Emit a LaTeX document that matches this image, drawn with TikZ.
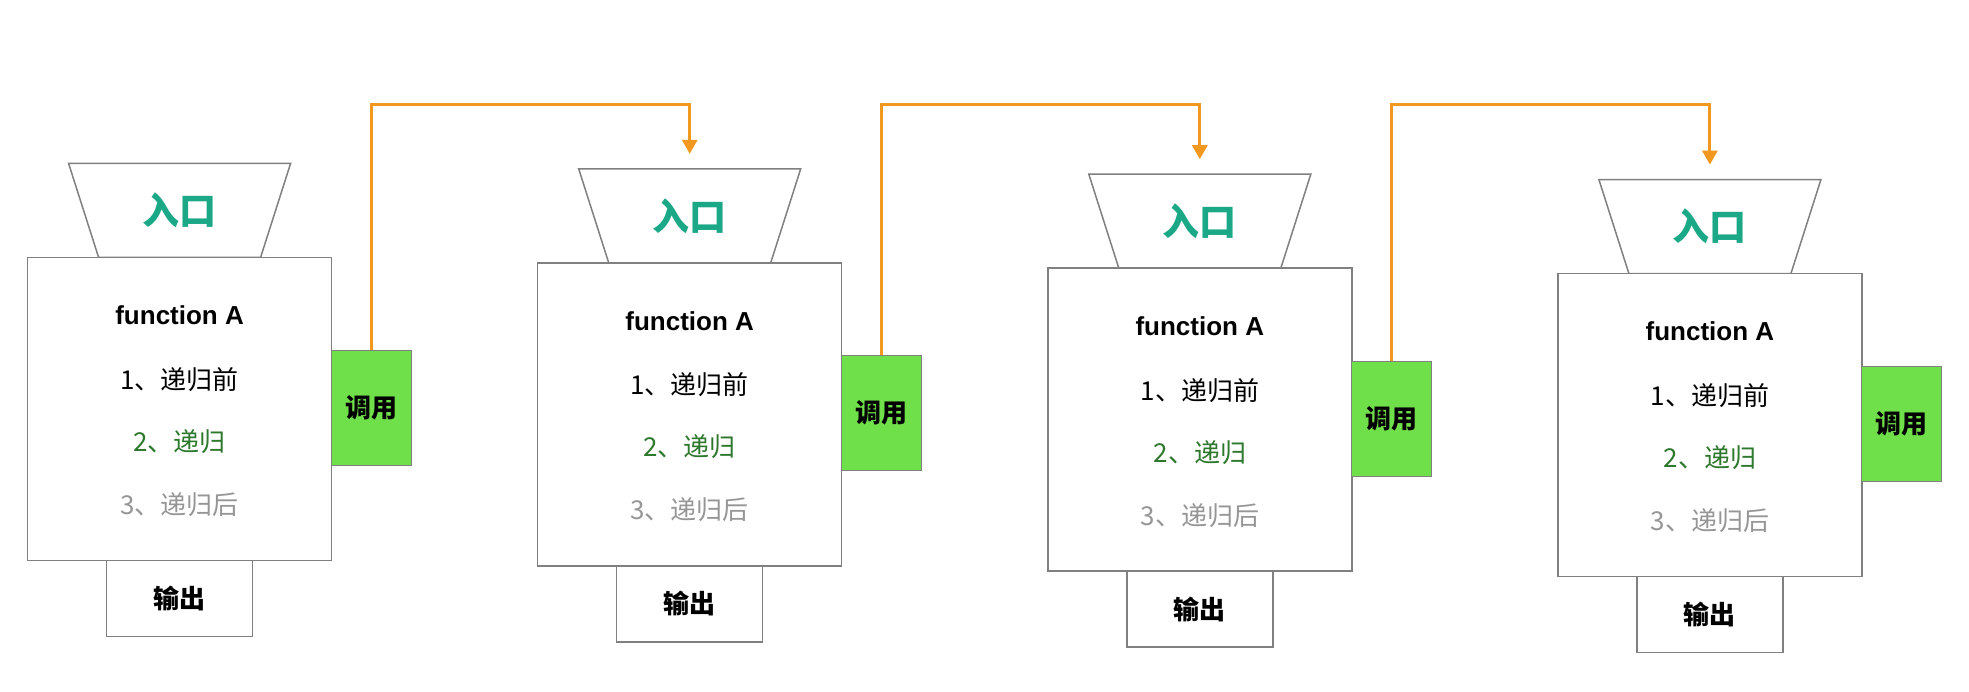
\documentclass[tikz,border=0pt]{standalone}
\usepackage{fontspec}
\setmainfont{Liberation Sans}
\newfontfamily\cjk{Noto Sans CJK SC}
\usetikzlibrary{arrows.meta}
\definecolor{boxline}{RGB}{128,128,128}
\definecolor{entry}{RGB}{27,168,135}
\definecolor{callgreen}{RGB}{112,224,74}
\definecolor{orangeline}{RGB}{243,152,30}
\definecolor{steptwo}{RGB}{45,120,45}
\definecolor{stepthree}{RGB}{150,150,150}
\tikzset{
  outline/.style={draw=boxline, line width=1.5pt},
  mainbox/.style={outline, fill=white, minimum width=304pt, minimum height=303pt, inner sep=0pt},
  outbox/.style={outline, fill=white, minimum width=146pt, minimum height=76pt, inner sep=0pt,
     font=\cjk\bfseries\fontsize{26}{30}\selectfont},
  callbox/.style={draw=boxline, line width=1pt, fill=callgreen, minimum width=80pt, minimum height=115pt, inner sep=0pt,
     font=\cjk\bfseries\fontsize{26}{30}\selectfont},
  entrytext/.style={text=entry, font=\cjk\bfseries\fontsize{37}{42}\selectfont, inner sep=0pt},
  titletext/.style={font=\bfseries\fontsize{26}{30}\selectfont, inner sep=0pt},
  itemtext/.style={font=\cjk\fontsize{26}{30}\selectfont, inner sep=0pt},
  conn/.style={draw=orangeline, line width=3pt,
     -{Triangle[width=15pt,length=14pt]}},
}
\begin{document}
\begin{tikzpicture}[x=1pt,y=-1pt]
\useasboundingbox (0,0) rectangle (1969,691);
\fill[white] (0,0) rectangle (1969,691);
\coordinate (hline) at (0,104);
\foreach \i in {0,1,2,3}{
  \pgfmathsetmacro\bx{27.6+510.1*\i}
  \pgfmathsetmacro\by{257.4+5.4*\i}
  \pgfmathsetmacro\cx{\bx+152}
  % entry trapezoid
  \draw[outline, fill=white] (\cx-111,\by-94) -- (\cx+111,\by-94) -- (\cx+81,\by) -- (\cx-81,\by) -- cycle;
  \coordinate (top\i) at (\cx,\by-94);
  \node[entrytext] (ent\i) at (\cx,\by-47) {入口};
  % main box
  \node[mainbox] (box\i) at (\cx,\by+151.5) {};
  \node[titletext] (fn\i) at (\cx,\by+58) {function A};
  \node[itemtext] (sa\i) at (\cx,\by+122) {1、递归前};
  \node[itemtext, text=steptwo] (sb\i) at (\cx,\by+184) {2、递归};
  \node[itemtext, text=stepthree] (sc\i) at (\cx,\by+247) {3、递归后};
  % output
  \node[outbox] (out\i) at (\cx,\by+341) {输出};
  % call
  \node[callbox] (call\i) at (\bx+344,\by+150.5) {调用};
}
\foreach \i/\j in {0/1,1/2,2/3}{
  \draw[conn] (call\i.north) -- (call\i.north |- hline) -| ([yshift=15pt]top\j);
}
\end{tikzpicture}
\end{document}
